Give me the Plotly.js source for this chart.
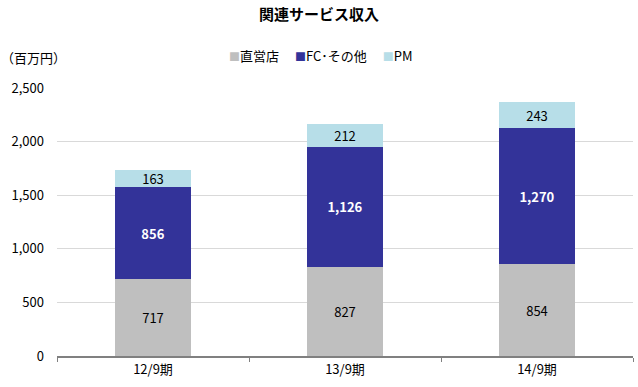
<!DOCTYPE html>
<html><head><meta charset="utf-8">
<script src="https://cdn.plot.ly/plotly-3.0.1.min.js"></script>
<style>body{margin:0;background:#fff}#c{width:638px;height:387px}</style>
</head><body><div id="c"></div>
<script>
const categories = ["12/9期", "13/9期", "14/9期"];
const direct = [717, 827, 854];
const fc = [856, 1126, 1270];
const pm = [163, 212, 243];
const seriesNames = ["直営店", "FC･その他", "PM"];
const seriesColors = ["#BFBFBF", "#333399", "#B7DEE8"];
const fmt = v => v.toLocaleString("en-US");
const F = "Noto Sans CJK JP, sans-serif";
const series = [direct, fc, pm];
const textColors = ["#000", "#fff", "#000"];
const traces = series.map((ys, i) => ({
  type: "bar", x: categories, y: ys, name: seriesNames[i],
  marker: {color: seriesColors[i]},
  text: ys.map(fmt), textposition: "inside", insidetextanchor: "middle",
  textangle: 0,
  textfont: {color: textColors[i], size: 13, family: F, weight: i === 1 ? "bold" : "normal"},
  hoverinfo: "none"
}));
const legendText = seriesNames.map((n, i) =>
  '<span style="color:' + seriesColors[i] + ';font-size:11px">■</span>' + n).join('　 ');
const layout = {
  width: 638, height: 387, barmode: "stack", bargap: 0.6,
  margin: {l: 57, r: 5, t: 88, b: 31},
  paper_bgcolor: "#fff", plot_bgcolor: "#fff",
  font: {family: F, size: 12, color: "#000"},
  title: {text: "<b>関連サービス収入</b>", x: 0.5, xanchor: "center", y: 0.962, yanchor: "middle", font: {size: 15, family: F}},
  showlegend: false,
  uniformtext: {mode: "show", minsize: 13},
  xaxis: {showline: true, linecolor: "#808080", linewidth: 2, ticks: "outside", tickson: "boundaries", ticklen: 4, tickcolor: "#808080", tickwidth: 1, tickfont: {size: 13, family: F}, showgrid: false},
  yaxis: {range: [0, 2500], dtick: 500, tickformat: ",d", showgrid: true, gridcolor: "#D9D9D9", gridwidth: 1, zeroline: false, tickfont: {size: 13, family: F}, ticklabelstandoff: 12},
  annotations: [
    {text: "（百万円）", xref: "paper", yref: "paper", x: -0.1, xanchor: "left", y: 1.115, yanchor: "middle", showarrow: false, font: {size: 13, family: F}},
    {text: legendText, xref: "paper", yref: "paper", x: 0.457, xanchor: "center", y: 1.12, yanchor: "middle", showarrow: false, font: {size: 13, family: F}}
  ]
};
Plotly.newPlot("c", traces, layout, {displayModeBar: false, staticPlot: true});
</script></body></html>
